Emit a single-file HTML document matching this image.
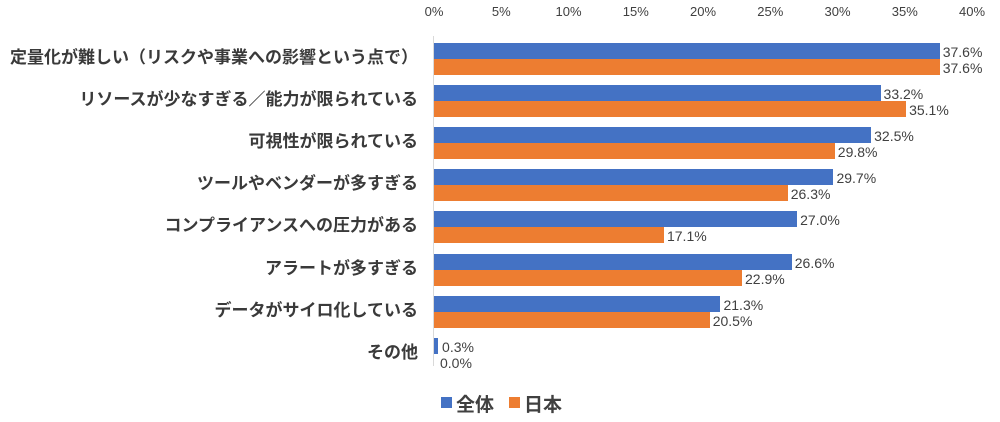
<!DOCTYPE html>
<html><head><meta charset="utf-8"><style>
body{margin:0;width:1000px;height:422px;background:#fff;position:relative;overflow:hidden;font-family:"Liberation Sans","Noto Sans CJK JP",sans-serif;color:#404040}
.t{position:absolute;top:4px;font-size:13px;width:40px;text-align:center;margin-left:-20px}
.c{position:absolute;right:582px;font-size:17px;font-weight:bold;color:#3a3a3a;white-space:nowrap;line-height:20px}
.b{position:absolute;left:434px;height:16px}
.bl{background:#4472C4}.or{background:#ED7D31}
.v{position:absolute;font-size:14px;line-height:16px}
</style></head><body>
<div style="position:absolute;left:433px;top:36px;width:1px;height:330px;background:#d9d9d9"></div>
<div id="r"></div>
<script>
var ticks=['0%','5%','10%','15%','20%','25%','30%','35%','40%'];
var h='';
ticks.forEach(function(t,i){h+='<div class="t" style="left:'+(434+i*67.25)+'px">'+t+'</div>';});
var d=[['定量化が難しい（リスクや事業への影響という点で）',37.6,37.6],['リソースが少なすぎる／能力が限られている',33.2,35.1],['可視性が限られている',32.5,29.8],['ツールやベンダーが多すぎる',29.7,26.3],['コンプライアンスへの圧力がある',27.0,17.1],['アラートが多すぎる',26.6,22.9],['データがサイロ化している',21.3,20.5],['その他',0.3,0.0]];
d.forEach(function(r,i){var y=43+i*42.1;
h+='<div class="c" style="top:'+(y+5)+'px">'+r[0]+'</div>';
var w1=r[1]*13.45,w2=r[2]*13.45;
h+='<div class="b bl" style="top:'+y+'px;width:'+w1+'px"></div>';
h+='<div class="b or" style="top:'+(y+16)+'px;width:'+w2+'px"></div>';
h+='<div class="v" style="top:'+(y+1)+'px;left:'+(434+w1+(i==7?4:3))+'px">'+r[1].toFixed(1)+'%</div>';
h+='<div class="v" style="top:'+(y+17)+'px;left:'+(434+w2+(i==7?6:3))+'px">'+r[2].toFixed(1)+'%</div>';
});
h+='<div style="position:absolute;left:441px;top:397px;width:11px;height:11px;background:#4472C4"></div><div style="position:absolute;left:456px;top:390px;font-size:19px;font-weight:bold;color:#404040">全体</div>';
h+='<div style="position:absolute;left:509px;top:397px;width:11px;height:11px;background:#ED7D31"></div><div style="position:absolute;left:524px;top:390px;font-size:19px;font-weight:bold;color:#404040">日本</div>';
document.getElementById('r').innerHTML=h;
</script>
</body></html>
